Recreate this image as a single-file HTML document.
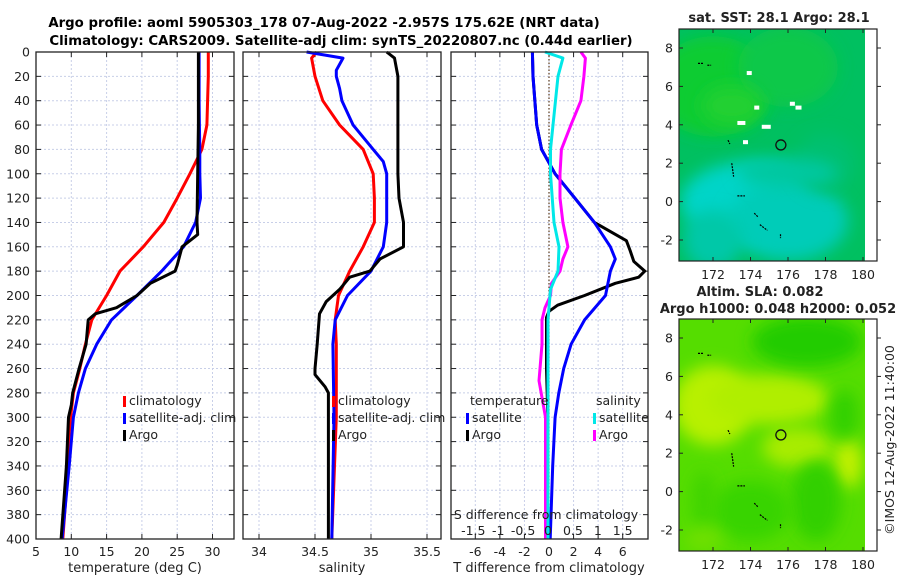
<!DOCTYPE html>
<html><head><meta charset="utf-8">
<style>
html,body{margin:0;padding:0;background:#fff;}
svg{display:block;font-family:"DejaVu Sans","Liberation Sans",sans-serif;}
</style></head>
<body>
<svg id="chart" width="900" height="580" viewBox="0 0 900 580" xmlns="http://www.w3.org/2000/svg">
<defs>
<filter id="blur6" x="-50%" y="-50%" width="200%" height="200%"><feGaussianBlur stdDeviation="8"/></filter>
<clipPath id="clipTop"><rect x="679" y="29" width="186" height="232"/></clipPath>
<clipPath id="clipBot"><rect x="679" y="319" width="186" height="232"/></clipPath>
</defs>
<text x="324" y="27" text-anchor="middle" font-size="13.3" font-weight="bold">Argo profile: aoml 5905303_178 07-Aug-2022 -2.957S 175.62E (NRT data)</text>
<text x="341" y="45" text-anchor="middle" font-size="13.3" font-weight="bold">Climatology: CARS2009. Satellite-adj clim: synTS_20220807.nc (0.44d earlier)</text>
<g id="panels"></g>
<g id="maps"></g>
</svg>
<script>
// ---------- data ----------
const depthTicks = [0,20,40,60,80,100,120,140,160,180,200,220,240,260,280,300,320,340,360,380,400];
const tempTicks = [5,10,15,20,25,30];
const salTicks = [34,34.5,35,35.5];
const tdiffTicks = [-6,-4,-2,0,2,4,6];
const sdiffTicks = [-1.5,-1,-0.5,0,0.5,1,1.5];

const climTDepth = [0,5,20,40,60,80,100,120,140,160,180,200,220,240,260,280,300,320,340,360,400];
const climT      = [29.4,29.4,29.4,29.3,29.2,28.5,26.8,25.0,23.1,20.2,16.9,15.0,12.9,12.0,11.2,10.3,9.9,9.6,9.5,9.3,8.8];
const satTDepth  = [0,5,20,40,60,80,100,120,140,160,180,200,220,240,260,280,300,320,340,400];
const satT       = [28.1,28.1,28.1,28.1,28.15,28.2,28.2,28.3,27.6,25.9,22.8,19.3,15.7,13.6,12.0,11.0,10.3,10.0,9.7,8.7];
const argoTDepth = [0,5,20,60,100,140,150,160,175,180,190,200,210,215,220,240,260,280,290,300,340,400];
const argoT      = [28.0,28.0,28.0,28.0,27.9,27.8,27.9,25.7,25.0,24.7,21.2,19.3,16.4,13.4,12.4,12.1,11.1,10.2,10.0,9.6,9.3,8.55];

const climSDepth = [0,5,20,40,60,80,100,120,140,160,180,200,220,240,300,400];
const climS      = [34.515,34.47,34.5,34.57,34.72,34.93,35.02,35.03,35.03,34.93,34.81,34.71,34.68,34.69,34.69,34.65];
const satSDepth  = [0,5,15,20,30,40,60,80,90,100,140,160,180,200,220,240,300,400];
const satS       = [34.425,34.75,34.69,34.69,34.72,34.74,34.84,35.02,35.11,35.14,35.14,35.11,35.0,34.79,34.68,34.66,34.67,34.65];
const argoSDepth = [0,5,20,60,100,120,140,155,160,170,180,185,195,205,215,240,260,265,275,280,300,400];
const argoS      = [35.14,35.21,35.24,35.24,35.24,35.25,35.29,35.29,35.29,35.08,34.99,34.81,34.72,34.60,34.54,34.52,34.50,34.50,34.59,34.62,34.62,34.62];

const satTdDepth  = [0,20,60,80,100,120,140,160,170,180,200,220,240,260,280,300,340,400];
const satTd       = [-1.35,-1.3,-1.0,-0.6,0.5,2.1,3.7,5.0,5.4,5.0,4.6,2.9,1.8,1.2,0.8,0.5,0.3,0.1];
const argoTdDepth = [0,20,60,80,100,120,140,155,163,172,180,185,190,200,208,213,218,260,300,400];
const argoTd      = [-1.35,-1.3,-1.0,-0.6,0.5,2.1,3.7,6.3,6.6,6.9,7.8,7.3,5.4,2.9,0.7,0.0,-0.2,-0.2,-0.1,-0.1];
const satSdDepth  = [0,5,20,60,80,100,140,160,180,195,220,300,400];
const satSd       = [-0.06,0.3,0.2,0.1,0.05,0.05,0.12,0.22,0.2,0.05,0.0,0.0,0.0];
const argoSdDepth = [0,5,20,40,60,80,100,120,140,160,170,180,190,200,210,220,240,270,300,400];
const argoSd      = [0.66,0.75,0.72,0.66,0.46,0.27,0.24,0.24,0.3,0.4,0.3,0.24,0.07,0.05,-0.06,-0.12,-0.12,-0.18,-0.05,-0.05];

const lonTicks = [172,174,176,178,180];
const latTicks = [-2,0,2,4,6,8];
const argoLon = 175.62, argoLat = 2.95;

// ---------- helpers ----------
const NS = "http://www.w3.org/2000/svg";
function mk(tag, attrs, parent){ const e=document.createElementNS(NS,tag); for(const k in attrs) e.setAttribute(k,attrs[k]); parent.appendChild(e); return e; }
const Y0=52, Y1=539;
const yD = d => Y0 + d*(Y1-Y0)/400;
function lin(d0,d1,r0,r1){ return v => r0 + (v-d0)*(r1-r0)/(d1-d0); }
const panelsG = document.getElementById('panels');
const mapsG = document.getElementById('maps');

function drawPanel(name, x0, x1, xs, xt, showDepthLabels){
  const g = mk('g',{},panelsG);
  
  
  xt.forEach(v=>{ const x=xs(v); mk('line',{x1:x,x2:x,y1:Y0,y2:Y1,stroke:'#c8cfe8','stroke-width':1,'stroke-dasharray':'2,2'},g);
    mk('line',{x1:x,x2:x,y1:Y0,y2:Y0+5,stroke:'#222','stroke-width':1},g);
    mk('line',{x1:x,x2:x,y1:Y1,y2:Y1-5,stroke:'#222','stroke-width':1},g);});
  depthTicks.forEach(d=>{ const y=yD(d);
    if(d>0&&d<400) mk('line',{x1:x0,x2:x1,y1:y,y2:y,stroke:'#c8cfe8','stroke-width':1,'stroke-dasharray':'2,2'},g);
    mk('line',{x1:x0,x2:x0+5,y1:y,y2:y,stroke:'#222','stroke-width':1},g);
    mk('line',{x1:x1,x2:x1-5,y1:y,y2:y,stroke:'#222','stroke-width':1},g);
    if(showDepthLabels){ const t=mk('text',{x:x0-6,y:y+4.5,'text-anchor':'end','font-size':12.5,fill:'#222'},g); t.textContent=d;
        }
  });
  return g;
}
function frame(g,x0,x1){ mk('rect',{x:x0,y:Y0,width:x1-x0,height:Y1-Y0,fill:'none',stroke:'#222','stroke-width':1.3},g); }
function line(g, xs, vals, depths, color, name){
  const pts = vals.map((v,i)=>xs(v).toFixed(1)+','+yD(depths[i]).toFixed(1)).join(' ');
  const p = mk('polyline',{points:pts,fill:'none',stroke:color,'stroke-width':3,'stroke-linejoin':'round'},g);
  
  
}
function txt(g,x,y,s,size,anchor,name,extra){ const t=mk('text',Object.assign({x:x,y:y,'font-size':size,'text-anchor':anchor||'start',fill:'#222'},extra||{}),g); t.textContent=s;
    return t; }
function legendItem(g,x,y,color,label,name){
  const r=mk('rect',{x:x,y:y-9,width:3,height:11,fill:color},g);
   
  txt(g,x+6,y,label,12.5,'start',name);
}

// ---------- panel 1: temperature ----------
const xT = lin(5,30,36,212.5);
let g1 = drawPanel('temperature-panel',36,234,xT,tempTicks,true);
line(g1,xT,climT,climTDepth,'#ff0000','climatology-temperature-line');
line(g1,xT,satT,satTDepth,'#0000ff','satellite-temperature-line');
line(g1,xT,argoT,argoTDepth,'#000000','argo-temperature-line');
frame(g1,36,234);
tempTicks.forEach(v=>txt(g1,xT(v),556,String(v),12.5,'middle','temperature-tick-label'));
txt(g1,135,572,'temperature (deg C)',13,'middle','temperature-axis-title');
legendItem(g1,123,405,'#ff0000','climatology','legend-climatology');
legendItem(g1,123,422,'#0000ff','satellite-adj. clim','legend-satellite');
legendItem(g1,123,439,'#000000','Argo','legend-argo');

// ---------- panel 2: salinity ----------
const xS = lin(34,35,259,371);
let g2 = drawPanel('salinity-panel',243,441,xS,salTicks,false);
line(g2,xS,climS,climSDepth,'#ff0000','climatology-salinity-line');
line(g2,xS,satS,satSDepth,'#0000ff','satellite-salinity-line');
line(g2,xS,argoS,argoSDepth,'#000000','argo-salinity-line');
frame(g2,243,441);
salTicks.forEach(v=>txt(g2,xS(v),556,String(v),12.5,'middle','salinity-tick-label'));
txt(g2,342,572,'salinity',13,'middle','salinity-axis-title');
legendItem(g2,332,405,'#ff0000','climatology','legend-climatology-s');
legendItem(g2,332,422,'#0000ff','satellite-adj. clim','legend-satellite-s');
legendItem(g2,332,439,'#000000','Argo','legend-argo-s');

// ---------- panel 3: differences ----------
const xTd = lin(0,6,549,622.7);
const xSd = lin(0,1.5,548,622.7);
let g3 = drawPanel('difference-panel',451,648,xTd,tdiffTicks,false);
const zl = mk('line',{x1:xTd(0),x2:xTd(0),y1:Y0,y2:Y1,stroke:'#5a3a1a','stroke-width':1.2,'stroke-dasharray':'1.5,2'},g3);
 
line(g3,xTd,argoTd,argoTdDepth,'#000000','argo-temperature-diff-line');
line(g3,xTd,satTd,satTdDepth,'#0000ff','satellite-temperature-diff-line');
line(g3,xSd,argoSd,argoSdDepth,'#ff00ff','argo-salinity-diff-line');
line(g3,xSd,satSd,satSdDepth,'#00e8e8','satellite-salinity-diff-line');
frame(g3,451,648);
tdiffTicks.forEach(v=>txt(g3,xTd(v),556,String(v),12.5,'middle','t-diff-tick-label'));
txt(g3,549,572,'T difference from climatology',13,'middle','t-diff-axis-title');
sdiffTicks.forEach(v=>txt(g3,xSd(v),535,String(v),12.5,'middle','s-diff-tick-label'));
txt(g3,546,519,'S difference from climatology',12.5,'middle','s-diff-axis-title');
txt(g3,470,405,'temperature',12.5,'start','legend-temperature-heading');
txt(g3,596,405,'salinity',12.5,'start','legend-salinity-heading');
legendItem(g3,466,422,'#0000ff','satellite','legend-t-satellite');
legendItem(g3,466,439,'#000000','Argo','legend-t-argo');
legendItem(g3,593,422,'#00e8e8','satellite','legend-s-satellite');
legendItem(g3,593,439,'#ff00ff','Argo','legend-s-argo');

// ---------- maps ----------
const xLon = lin(172,180,713,863);
function drawMap(name, top, bgFill, blobs, clip, titleLines){
  const g = mk('g',{},mapsG);
  
  
  const yLat = lin(8,-2,top+19,top+211);
  const ig = mk('g',{'clip-path':'url(#'+clip+')'},g);
  mk('rect',{x:679,y:top,width:186,height:232,fill:bgFill},ig);
  blobs.forEach(b=>mk('ellipse',{cx:xLon(b[0]),cy:yLat(b[1]),rx:b[2],ry:b[3],fill:b[4],filter:'url(#blur6)'},ig));
  const coast=[[171.2,7.2,171.5,7.2],[171.7,7.1,171.9,7.1],[172.8,3.2,172.9,3.0],[173,2.0,173.1,1.3],[173.3,0.3,173.7,0.3],[174.2,-0.6,174.4,-0.8],[174.5,-1.2,174.9,-1.5],[175.6,-1.7,175.6,-1.9]];
  coast.forEach(c=>mk('line',{x1:xLon(c[0]),y1:yLat(c[1]),x2:xLon(c[2]),y2:yLat(c[3]),stroke:'#000','stroke-width':1.2,'stroke-dasharray':'2,1'},ig));
  const c = mk('circle',{cx:xLon(argoLon),cy:yLat(argoLat),r:5,fill:'none',stroke:'#111','stroke-width':1.3},g);
   
  mk('rect',{x:679,y:top,width:198,height:232,fill:'none',stroke:'#222','stroke-width':1.2},g);
  lonTicks.forEach(v=>{ const x=xLon(v);
    mk('line',{x1:x,x2:x,y1:top+232,y2:top+228,stroke:'#222'},g);
    mk('line',{x1:x,x2:x,y1:top,y2:top+4,stroke:'#222'},g);
    txt(g,x,top+250,String(v),12.5,'middle','longitude-tick-label'); });
  latTicks.forEach(v=>{ const y=yLat(v);
    mk('line',{x1:679,x2:683,y1:y,y2:y,stroke:'#222'},g);
    mk('line',{x1:877,x2:881,y1:y,y2:y,stroke:'#222'},g);
    txt(g,673,y+4.5,String(v),12.5,'end','latitude-tick-label'); });
  titleLines.forEach(t=>txt(g,t[0],t[1],t[2],13,'middle',t[3],{'font-weight':'bold'}));
}
drawMap('sst-map',29,'#00c060',[
  [172,6,60,50,'#10cc30'],[176,7,50,40,'#08c848'],[173,5,30,20,'#20d030'],
  [174,0,70,40,'#00d4c8'],[176,-1,60,40,'#00ccb8'],[172,-2,30,30,'#00c8a8'],[178,2,30,30,'#00c070'],[176,1.5,50,15,'#00c8a0']
],'clipTop',[[779,22,'sat. SST: 28.1 Argo: 28.1','sst-map-title']]);
[[173.8,6.8,5,4],[174.2,5,5,4],[176.1,5.2,5,4],[176.4,5,6,4],[173.3,4.2,8,4],[174.6,4.0,9,4],[173.6,3.2,5,4]].forEach(w=>{
  const yL=lin(8,-2,48,240); const r=mk('rect',{x:xLon(w[0]),y:yL(w[1]),width:w[2],height:w[3],fill:'#fff'},mapsG);
    });
drawMap('sla-map',319,'#55dd00',[
  [172,4.5,40,40,'#b8f000'],[175,4.8,60,25,'#b0ee00'],[176.5,2.3,35,20,'#a8ec00'],[179.2,1.5,15,25,'#c0f000'],
  [177,7.8,55,25,'#22cc00'],[179,4,14,25,'#30d000'],[177.5,-0.5,25,40,'#30d000'],[174,-1,40,30,'#38d400'],[171.5,-0.5,12,30,'#40d400'],[171.5,-2.5,20,12,'#70e000']
],'clipBot',[[760,296,'Altim. SLA: 0.082','sla-map-title'],[778,313,'Argo h1000: 0.048 h2000: 0.052','sla-map-subtitle']]);
const cr = txt(mapsG,0,0,'©IMOS 12-Aug-2022 11:40:00',12.5,'middle','imos-credit',{transform:'translate(894,440) rotate(-90)'});
</script>
</body></html>
